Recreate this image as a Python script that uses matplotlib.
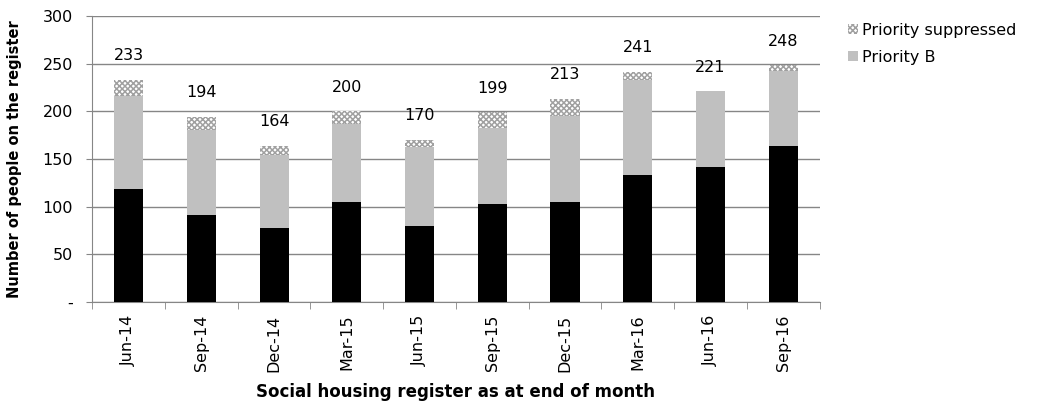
import numpy as np
import matplotlib
matplotlib.use("Agg")
import matplotlib.pyplot as plt

#chart data
months = ['Jun-14', 'Sep-14', 'Dec-14', 'Mar-15', 'Jun-15',
          'Sep-15', 'Dec-15', 'Mar-16', 'Jun-16', 'Sep-16']
priority_a = [119, 91, 78, 105, 80, 103, 105, 133, 142, 164]
priority_b = [97, 89, 76, 82, 83, 79, 90, 100, 79, 78]
priority_sup = [17, 14, 10, 13, 7, 17, 18, 8, 0, 6]
totals = [233, 194, 164, 200, 170, 199, 213, 241, 221, 248]

plt.rcParams['font.family'] = ['DejaVu Sans']
plt.rcParams['font.size'] = 11.5
plt.rcParams['hatch.linewidth'] = 1.1

fig = plt.figure(figsize=(10.48, 4.05), dpi=100)
ax = fig.add_axes([0.088, 0.254, 0.694, 0.707])

x = np.arange(len(months))
a = np.array(priority_a)
b = np.array(priority_b)
s = np.array(priority_sup)
w = 0.4

ax.bar(x, a, w, color='black', linewidth=0, zorder=3)
ax.bar(x, b, w, bottom=a, color='#c0c0c0', linewidth=0, zorder=3, label='Priority B')
ax.bar(x, s, w, bottom=a + b, color='white', edgecolor='#a0a0a0', hatch='xxxxxx',
       linewidth=0, zorder=3, label='Priority suppressed')

for xi, t in zip(x, totals):
    ax.annotate(str(t), (xi, t), xytext=(0, 12), textcoords='offset points',
                ha='center', va='bottom', fontsize=11.5)

ax.set_xlim(-0.5, len(months) - 0.5)
ax.set_ylim(0, 300)
ax.set_yticks(np.arange(0, 301, 50))
ax.set_yticklabels(['-'] + [str(v) for v in range(50, 301, 50)], fontsize=11.5)
ax.set_xticks(x)
ax.set_xticklabels(months, rotation=90, fontsize=11.5)
ax.set_xticks(np.arange(-0.5, len(months)), minor=True)
ax.tick_params(axis='x', which='major', length=0, pad=9)
ax.tick_params(axis='x', which='minor', length=5, color='#868686', direction='out')
ax.tick_params(axis='y', length=4, color='#868686', direction='out', pad=10)

ax.grid(axis='y', color='#868686', linewidth=1, zorder=0)
for side in ['top', 'right']:
    ax.spines[side].set_visible(False)
for side in ['left', 'bottom']:
    ax.spines[side].set_color('#868686')

ax.set_xlabel('Social housing register as at end of month', fontweight='bold', fontsize=12)
ax.set_ylabel('Number of people on the register', fontweight='bold', fontsize=10.5)
ax.xaxis.set_label_coords(0.5, -0.283)
ax.yaxis.set_label_coords(-0.097, 0.5)

handles, labels = ax.get_legend_handles_labels()
fig.legend(handles[::-1], labels[::-1], loc='upper left', bbox_to_anchor=(0.803, 0.96),
           frameon=False, fontsize=11.5, handlelength=0.6, handleheight=0.6,
           handletextpad=0.25, labelspacing=0.75, borderaxespad=0)

fig.savefig('out.png', dpi=100)
